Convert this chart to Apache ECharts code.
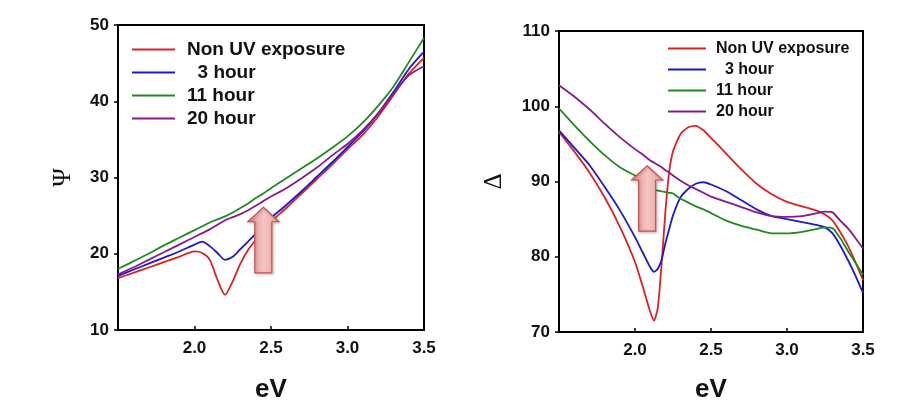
<!DOCTYPE html>
<html>
<head>
<meta charset="utf-8">
<script src="https://cdn.jsdelivr.net/npm/echarts@6/dist/echarts.min.js"></script>
<style>
html,body{margin:0;padding:0;background:#fff;}
#c{width:901px;height:411px;}
</style>
</head>
<body>
<div id="c"></div>
<script>
// ---------- data ----------
var seriesNames = ['Non UV exposure', '  3 hour', '11 hour', '20 hour'];
var seriesColors = ['#dd2222', '#1a1ad0', '#1f8a1f', '#861a8e'];

// Left panel: Psi vs eV
var evLeft = [1.5,1.6,1.7,1.8,1.9,2.0,2.05,2.1,2.15,2.2,2.25,2.3,2.35,2.4,2.45,2.5,2.6,2.7,2.8,2.9,3.0,3.1,3.2,3.3,3.4,3.5];
var psiNonUV = [16.8,17.5,18.2,18.9,19.6,20.3,20.1,19.2,16.6,14.6,16.4,18.7,20.5,21.8,23.0,24.2,26.0,27.9,29.8,31.7,33.7,35.6,38.0,40.8,43.6,45.7];
var psi3h    = [17.1,17.9,18.7,19.5,20.3,21.2,21.6,21.0,20.1,19.2,19.6,20.6,21.6,22.6,23.7,24.7,26.4,28.2,30.1,32.0,34.0,36.0,38.4,41.2,44.2,46.5];
var psi11h   = [18.0,19.0,20.0,21.1,22.1,23.1,23.6,24.1,24.5,24.9,25.4,26.0,26.6,27.3,27.9,28.6,29.9,31.2,32.5,33.9,35.4,37.2,39.4,41.9,45.1,48.3];
var psi20h   = [17.3,18.2,19.2,20.2,21.2,22.2,22.7,23.2,23.8,24.4,24.8,25.2,25.7,26.3,26.9,27.5,28.6,29.9,31.3,32.9,34.4,36.2,38.4,41.0,43.4,44.6];

// Right panel: Delta vs eV
var evRight = [1.5,1.6,1.7,1.8,1.9,2.0,2.05,2.1,2.125,2.15,2.175,2.2,2.225,2.25,2.3,2.35,2.4,2.45,2.5,2.6,2.7,2.8,2.9,3.0,3.1,3.2,3.25,3.3,3.35,3.4,3.45,3.5];
var delNonUV = [96.6,94.0,91.2,87.9,84.0,79.3,76.1,72.7,71.5,73.2,79.0,86.0,91.3,94.0,96.3,97.2,97.4,96.8,95.8,93.7,91.6,89.7,88.3,87.3,86.7,86.1,85.6,84.8,83.3,81.5,79.3,76.9];
var del3h    = [96.8,94.5,92.2,89.3,86.2,82.6,80.6,78.6,78.0,78.4,79.6,81.8,83.7,85.5,87.9,89.0,89.7,89.9,89.6,88.7,87.5,86.3,85.4,85.0,84.6,84.2,83.9,83.1,81.5,79.6,77.5,75.2];
var del11h   = [99.7,97.5,95.4,93.5,91.9,90.8,90.2,89.2,88.9,88.8,88.7,88.6,88.5,88.4,87.7,87.2,86.7,86.3,85.8,84.8,84.1,83.6,83.1,83.1,83.3,83.7,83.9,83.8,82.5,80.8,79.2,77.6];
var del20h   = [102.8,101.3,99.6,97.7,95.9,94.3,93.6,92.8,92.5,92.2,91.9,91.5,91.2,90.8,90.1,89.5,89.0,88.5,88.0,87.3,86.6,85.9,85.4,85.3,85.4,85.8,86.0,85.9,84.8,83.8,82.5,81.1];

// axis ticks
var xMin = 1.5, xMax = 3.5, xStep = 0.5;
var psiTicks = [10, 50, 10];   // min, max, interval
var delTicks = [70, 110, 10];

// annotation arrows: [x, yBottom, yHeadBase, yTip] in data units
var arrowLeft  = [2.45, 17.5, 24.2, 26.1];
var arrowRight = [2.08, 83.4, 90.2, 92.1];

// ---------- build ----------
function pairs(xs, ys){ return xs.map(function(x,i){ return [x, ys[i]]; }); }
var leftData = [psiNonUV, psi3h, psi11h, psi20h];
var rightData = [delNonUV, del3h, del11h, del20h];

var tickFont = {color:'#111', fontFamily:'Liberation Sans, Arial, sans-serif', fontWeight:'bold', fontSize:17};

function xAxisCfg(gi, gap){
  return {
    type:'value', gridIndex:gi, min:xMin, max:xMax, interval:xStep,
    name:'eV', nameLocation:'middle', nameGap:gap,
    nameTextStyle:{fontFamily:'Liberation Sans, Arial, sans-serif', fontWeight:'bold', fontSize:26, color:'#111'},
    axisLine:{show:true, lineStyle:{color:'#000', width:2}},
    axisTick:{show:true, inside:true, length:4, lineStyle:{color:'#000', width:1.5}},
    splitLine:{show:false},
    axisLabel:Object.assign({margin:10, formatter:function(v){ return Math.abs(v-xMin)<1e-9 ? '' : v.toFixed(1); }}, tickFont)
  };
}
function yAxisCfg(gi, t, nm, gap){
  return {
    type:'value', gridIndex:gi, min:t[0], max:t[1], interval:t[2],
    name:nm, nameLocation:'middle', nameGap:gap, nameRotate:90,
    nameTextStyle:{fontFamily:'Liberation Serif, Times New Roman, serif', fontSize:25, color:'#111'},
    axisLine:{show:true, lineStyle:{color:'#000', width:2}},
    axisTick:{show:true, inside:false, length:4, lineStyle:{color:'#000', width:1.5}},
    splitLine:{show:false},
    axisLabel:Object.assign({margin:9}, tickFont)
  };
}

var series = [];
for (var i=0;i<4;i++){
  series.push({type:'line', name:seriesNames[i], xAxisIndex:0, yAxisIndex:0, data:pairs(evLeft,leftData[i]),
    showSymbol:false, smooth:0.25, lineStyle:{width:1.8, color:seriesColors[i]}, itemStyle:{color:seriesColors[i]}, z:3});
}
for (var j=0;j<4;j++){
  series.push({type:'line', name:seriesNames[j], xAxisIndex:1, yAxisIndex:1, data:pairs(evRight,rightData[j]),
    showSymbol:false, smooth:0.2, lineStyle:{width:1.8, color:seriesColors[j]}, itemStyle:{color:seriesColors[j]}, z:3});
}

var legendText = {fontFamily:'Liberation Sans, Arial, sans-serif', fontWeight:'bold', color:'#111'};

var option = {
  backgroundColor:'#fff',
  animation:false,
  grid:[
    {left:118, top:25, width:306, height:305, show:true, borderColor:'#000', borderWidth:2, backgroundColor:'transparent'},
    {left:559, top:31, width:304, height:301, show:true, borderColor:'#000', borderWidth:2, backgroundColor:'transparent'}
  ],
  xAxis:[xAxisCfg(0,47), xAxisCfg(1,45)],
  yAxis:[yAxisCfg(0,psiTicks,'\u03A8',42), yAxisCfg(1,delTicks,'\u0394',52)],
  legend:[
    {orient:'vertical', left:132, top:38, padding:0, itemWidth:43, itemHeight:2, itemGap:0, icon:'rect',
     selectedMode:false, data:seriesNames,
     textStyle:Object.assign({fontSize:19, lineHeight:23, padding:[0,0,0,7]}, legendText)},
    {orient:'vertical', left:668, top:38, padding:0, itemWidth:38, itemHeight:2, itemGap:0, icon:'rect',
     selectedMode:false, data:seriesNames,
     textStyle:Object.assign({fontSize:16, lineHeight:21, padding:[0,0,0,5]}, legendText)}
  ],
  series:series
};

var chart = echarts.init(document.getElementById('c'), null, {renderer:'canvas'});
chart.setOption(option);

function arrowShape(gi, a){
  var pB = chart.convertToPixel({gridIndex:gi}, [a[0], a[1]]);
  var pH = chart.convertToPixel({gridIndex:gi}, [a[0], a[2]]);
  var pT = chart.convertToPixel({gridIndex:gi}, [a[0], a[3]]);
  var cx = pB[0], sw = 8.5, hw = 15.5;
  return {
    type:'polygon', z:10,
    shape:{points:[[cx-sw,pB[1]],[cx+sw,pB[1]],[cx+sw,pH[1]],[cx+hw,pH[1]],[cx,pT[1]],[cx-hw,pH[1]],[cx-sw,pH[1]]]},
    style:{
      fill:new echarts.graphic.LinearGradient(0,0,1,0,[
        {offset:0,color:'#e88c8c'},{offset:0.5,color:'#f6c4c4'},{offset:1,color:'#eca2a2'}]),
      stroke:'#c8504f', lineWidth:1.2,
      shadowBlur:3, shadowColor:'rgba(0,0,0,0.25)', shadowOffsetX:1, shadowOffsetY:1
    }
  };
}
chart.setOption({graphic:[arrowShape(0, arrowLeft), arrowShape(1, arrowRight)]});
</script>
</body>
</html>
